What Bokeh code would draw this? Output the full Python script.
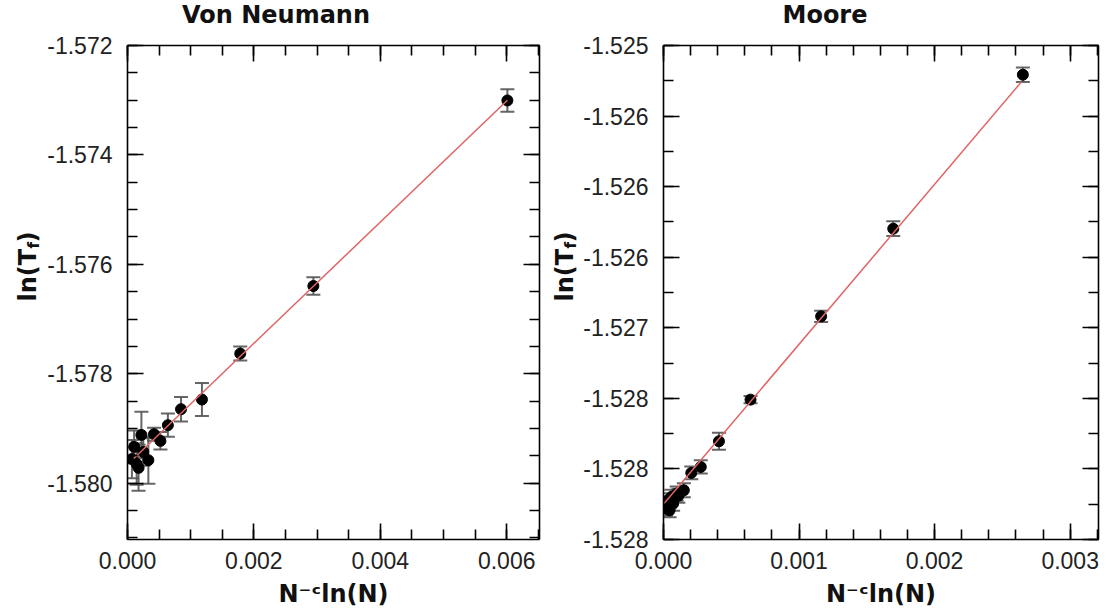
import numpy as np
from bokeh.plotting import figure
from bokeh.layouts import row, column
from bokeh.models import (FixedTicker, LinearAxis, Range1d, Whisker, TeeHead,
                          ColumnDataSource, PrintfTickFormatter,
                          CustomJSTickFormatter)
from bokeh.core.properties import value
from bokeh.embed import file_html
from bokeh.resources import INLINE

# ---------------- data: Von Neumann ----------------
vn_x = [0.006011, 0.002941, 0.001784, 0.001178, 0.000847, 0.000639, 0.000521,
        0.000420, 0.000220, 0.000105, 0.000145, 0.000175, 0.000330, 0.000250, 0.000070]
vn_y = [-1.573005, -1.576396, -1.577631, -1.578471, -1.578648, -1.578941, -1.579227,
        -1.579105, -1.579118, -1.579337, -1.579650, -1.579720, -1.579580, -1.579430, -1.579560]
vn_err = [0.000206, 0.000160, 0.000128, 0.000300, 0.000225, 0.000213, 0.000160,
          0.000120, 0.000425, 0.000300, 0.000380, 0.000420, 0.000430, 0.000250, 0.000350]
vn_fit_x = [0.000100, 0.006011]
vn_fit_slope = 1.108
vn_fit_intercept = -1.57966
vn_xticks = [0.000, 0.002, 0.004, 0.006]
vn_xminor = [0.0005 * i for i in range(14)]
vn_yticks = [-1.580, -1.578, -1.576, -1.574, -1.572]
vn_yminor = [-1.581 + 0.0005 * i for i in range(19)]
vn_ylabels = ["-1.580", "-1.578", "-1.576", "-1.574", "-1.572"]

# ---------------- data: Moore ----------------
mo_x = [0.002651, 0.001695, 0.001163, 0.000642, 0.000409, 0.000275, 0.000205,
        0.000150, 0.0000975, 0.000058, 0.000032, 0.000018, 0.000045, 0.000071, 0.000110]
mo_y = [-1.525207, -1.526298, -1.526919, -1.527509, -1.527804, -1.527986, -1.528028,
        -1.528151, -1.528175, -1.528198, -1.528222, -1.528281, -1.528293, -1.528246, -1.528190]
mo_err = [0.000052, 0.000052, 0.000040, 0.000026, 0.000060, 0.000047, 0.000045,
          0.000050, 0.000050, 0.000050, 0.000050, 0.000050, 0.000050, 0.000050, 0.000050]
mo_fit_x = [0.000004, 0.002640]
mo_fit_slope = 1.1334
mo_fit_intercept = -1.52825
mo_xticks = [0.000, 0.001, 0.002, 0.003]
mo_xminor = [0.0002 * i for i in range(17)]
mo_yticks = [-1.5285, -1.5280, -1.5275, -1.5270, -1.5265, -1.5260, -1.5255, -1.5250]
mo_yminor = [-1.5285 + 0.00025 * i for i in range(15)]
mo_ylabels = ["-1.528", "-1.528", "-1.528", "-1.527", "-1.526", "-1.526", "-1.526", "-1.525"]

panel_titles = ["Von Neumann", "Moore"]

TICK_FONT = "Liberation Sans"
BOLD_FONT = "DejaVu Sans"
W = 1106
TITLE_H = 27
H = 615 - TITLE_H


def bare_fig(width, height):
    f = figure(width=width, height=height, x_range=Range1d(0, width),
               y_range=Range1d(0, height), output_backend="svg",
               toolbar_location=None, x_axis_location=None, y_axis_location=None,
               min_border_left=0, min_border_right=0, min_border_top=0,
               min_border_bottom=0)
    f.xgrid.visible = False
    f.ygrid.visible = False
    f.outline_line_color = None
    return f


def title_fig():
    f = bare_fig(W, TITLE_H)
    f.text(x=[275.5, 824.5], y=[13, 13], text=panel_titles,
           text_font=value(BOLD_FONT), text_font_style="bold", text_font_size="24px",
           text_color="#111111", text_align="center", text_baseline="alphabetic")
    return f


def ylabel_fig(width, xc, y_end):
    """Narrow figure that holds the rotated y-axis label ln(T_f)."""
    f = bare_fig(width, H)
    kw = dict(angle=np.pi / 2, text_font=value(BOLD_FONT), text_font_style="bold",
              text_color="#111111", text_baseline="middle")
    f.text(x=[xc], y=[y_end], text=["ln(T"], text_font_size="24px",
           text_align="right", **kw)
    f.text(x=[xc + 6], y=[y_end + 0.5], text=["f"], text_font_size="15px",
           text_align="left", **kw)
    f.text(x=[xc], y=[y_end + 7.5], text=[")"], text_font_size="24px",
           text_align="left", **kw)
    return f


def style_axis(ax, ticker, labels=None, fmt=None):
    ax.ticker = ticker
    ax.axis_line_color = "black"
    ax.axis_line_width = 1.6
    ax.major_tick_line_color = "black"
    ax.major_tick_line_width = 1.6
    ax.minor_tick_line_color = "black"
    ax.minor_tick_line_width = 1.6
    ax.major_tick_in = 16
    ax.major_tick_out = 0
    ax.minor_tick_in = 10
    ax.minor_tick_out = 0
    ax.major_label_text_font = TICK_FONT
    ax.major_label_text_font_size = "23px"
    ax.major_label_text_color = "#222222"
    if fmt is not None:
        ax.formatter = fmt
    if labels is None:
        ax.formatter = CustomJSTickFormatter(code="return ''")
        ax.major_label_standoff = 0


def make_panel(xs, ys, errs, fit_x, slope, intercept, xr, yr,
               xticks, xminor, yticks, yminor, ylabels, width, left, right):
    p = figure(width=width, height=H, x_range=Range1d(*xr), y_range=Range1d(*yr),
               output_backend="svg", toolbar_location=None,
               min_border_left=left, min_border_right=right,
               min_border_top=45 - TITLE_H, min_border_bottom=76)
    p.xgrid.visible = False
    p.ygrid.visible = False
    p.outline_line_color = None
    p.background_fill_color = "white"
    p.border_fill_color = "white"

    xt = FixedTicker(ticks=xticks, minor_ticks=xminor)
    yt = FixedTicker(ticks=yticks, minor_ticks=yminor)

    xa = p.xaxis[0]
    style_axis(xa, xt, labels=True, fmt=PrintfTickFormatter(format="%.3f"))
    xa.major_label_standoff = 12
    xa.axis_label = "N\u207b\u1d9cln(N)"
    xa.axis_label_text_font = BOLD_FONT
    xa.axis_label_text_font_style = "bold"
    xa.axis_label_text_font_size = "24px"
    xa.axis_label_text_color = "#111111"
    xa.axis_label_standoff = 8

    ya = p.yaxis[0]
    style_axis(ya, yt, labels=True)
    ya.major_label_overrides = {t: s for t, s in zip(yticks, ylabels)}
    ya.major_label_standoff = 15

    top = LinearAxis()
    style_axis(top, FixedTicker(ticks=xticks, minor_ticks=xminor))
    p.add_layout(top, "above")
    rgt = LinearAxis()
    style_axis(rgt, FixedTicker(ticks=yticks, minor_ticks=yminor))
    p.add_layout(rgt, "right")

    src = ColumnDataSource(dict(
        x=xs, y=ys,
        upper=[y + e for y, e in zip(ys, errs)],
        lower=[y - e for y, e in zip(ys, errs)]))
    ec = "#555555"
    w = Whisker(source=src, base="x", upper="upper", lower="lower",
                dimension="height", line_color=ec, line_width=2, line_alpha=0.9,
                upper_head=TeeHead(size=14, line_color=ec, line_width=2, line_alpha=0.9),
                lower_head=TeeHead(size=14, line_color=ec, line_width=2, line_alpha=0.9))
    p.add_layout(w)
    p.scatter("x", "y", source=src, size=11, color="black")
    p.line(fit_x, [intercept + slope * x for x in fit_x], line_color="#e06464", line_width=1.5)
    return p


yl1 = ylabel_fig(44, 27, 346)
p1 = make_panel(vn_x, vn_y, vn_err, vn_fit_x, vn_fit_slope, vn_fit_intercept,
                (0.0, 0.006519), (-1.58103, -1.572), vn_xticks, vn_xminor,
                vn_yticks, vn_yminor, vn_ylabels, 507, 80, 12)
yl2 = ylabel_fig(28, 13, 346)
p2 = make_panel(mo_x, mo_y, mo_err, mo_fit_x, mo_fit_slope, mo_fit_intercept,
                (0.0, 0.003209), (-1.5285, -1.525), mo_xticks, mo_xminor,
                mo_yticks, mo_yminor, mo_ylabels, 527, 84, 8)

layout = column(title_fig(), row(yl1, p1, yl2, p2))
open("out.html", "w").write(file_html(layout, INLINE))
